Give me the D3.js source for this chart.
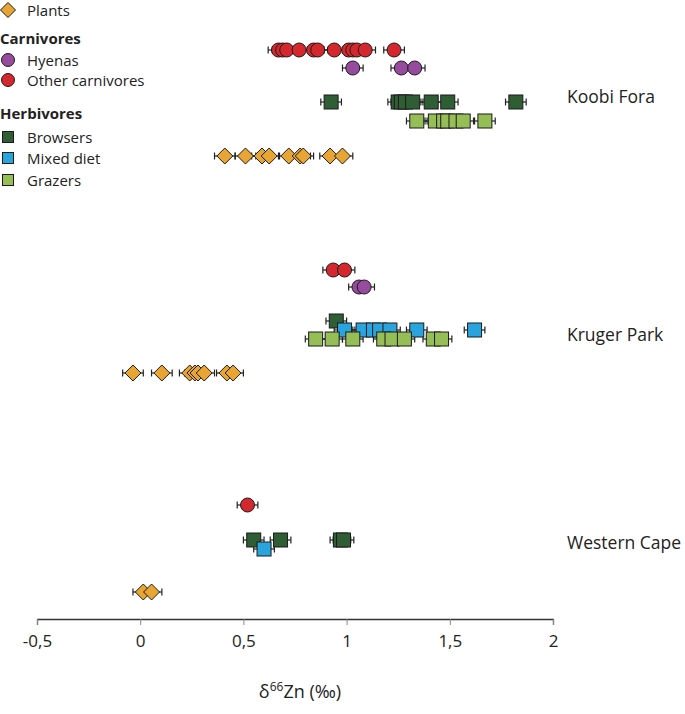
<!DOCTYPE html>
<html>
<head>
<meta charset="utf-8">
<script src="https://cdn.jsdelivr.net/npm/d3@7"></script>
<style>
  html, body { margin: 0; padding: 0; background: #fff; }
  svg { display: block; font-family: "Open Sans", "Noto Sans", sans-serif; }
</style>
</head>
<body>
<svg id="chart" width="685" height="714"></svg>
<script>
// ---------------- DATA (δ66Zn, ‰) ----------------
const sites = ["Koobi Fora", "Kruger Park", "Western Cape"];
const groups = ["Other carnivores", "Hyenas", "Browsers", "Mixed diet", "Grazers", "Plants"];
const xTicks = [-0.5, 0, 0.5, 1, 1.5, 2];
const xTickLabels = ["-0,5", "0", "0,5", "1", "1,5", "2"];
const errorHalf = 0.05;

// Koobi Fora
const kfOther    = [0.67, 0.69, 0.71, 0.77, 0.84, 0.86, 0.94, 1.01, 1.03, 1.05, 1.09, 1.23];
const kfHyenas   = [1.03, 1.265, 1.33];
const kfBrowsers = [0.925, 1.25, 1.265, 1.285, 1.32, 1.41, 1.49, 1.82];
const kfMixed    = [];
const kfGrazers  = [1.34, 1.43, 1.47, 1.49, 1.53, 1.565, 1.67];
const kfPlants   = [0.41, 0.51, 0.59, 0.625, 0.72, 0.775, 0.79, 0.92, 0.98];

// Kruger Park
const kpOther    = [0.935, 0.99];
const kpHyenas   = [1.06, 1.085];
const kpBrowsers = [0.95];
const kpMixed    = [0.99, 1.08, 1.13, 1.16, 1.21, 1.34, 1.62];
const kpGrazers  = [0.85, 0.93, 1.03, 1.18, 1.22, 1.28, 1.42, 1.46];
const kpPlants   = [-0.035, 0.105, 0.24, 0.265, 0.28, 0.31, 0.42, 0.45];

// Western Cape
const wcOther    = [0.52];
const wcHyenas   = [];
const wcBrowsers = [0.55, 0.68, 0.97, 0.985];
const wcMixed    = [0.6];
const wcGrazers  = [];
const wcPlants   = [0.015, 0.055];

const siteData = {
  "Koobi Fora":   [kfOther, kfHyenas, kfBrowsers, kfMixed, kfGrazers, kfPlants],
  "Kruger Park":  [kpOther, kpHyenas, kpBrowsers, kpMixed, kpGrazers, kpPlants],
  "Western Cape": [wcOther, wcHyenas, wcBrowsers, wcMixed, wcGrazers, wcPlants]
};

// ---------------- STYLE / LAYOUT ----------------
const color = d3.scaleOrdinal()
  .domain(["Plants", "Hyenas", "Other carnivores", "Browsers", "Mixed diet", "Grazers"])
  .range(["#e9a534", "#964b9f", "#d4282e", "#2f5e35", "#2aa4dc", "#95be57"]);
const shapeOf = g => g === "Plants" ? "diamond"
  : (g === "Hyenas" || g === "Other carnivores") ? "circle" : "square";

// row positions (pixels) within each site block
const rowY = {
  "Koobi Fora":   {"Other carnivores": 50, "Hyenas": 68, "Browsers": 102, "Mixed diet": 111, "Grazers": 121, "Plants": 156},
  "Kruger Park":  {"Other carnivores": 270, "Hyenas": 287, "Browsers": 321, "Mixed diet": 330, "Grazers": 339, "Plants": 373},
  "Western Cape": {"Other carnivores": 505, "Hyenas": 522, "Browsers": 540, "Mixed diet": 549, "Grazers": 558, "Plants": 592}
};
const siteLabelY = {"Koobi Fora": 103, "Kruger Park": 341, "Western Cape": 549};

const svg = d3.select("#chart");
const x = d3.scaleLinear().domain([-0.5, 2]).range([37, 553]);
const axisY = 619;

// rows of points
const points = [];
sites.forEach(s => {
  groups.forEach((g, gi) => {
    siteData[s][gi].forEach(v => points.push({site: s, group: g, v}));
  });
});

const plot = svg.append("g");

// error bars
const eb = plot.append("g").attr("stroke", "#222").attr("stroke-width", 1.2);
points.forEach(p => {
  const y = rowY[p.site][p.group];
  const x0 = x(p.v - errorHalf), x1 = x(p.v + errorHalf);
  eb.append("line").attr("x1", x0).attr("x2", x1).attr("y1", y).attr("y2", y);
  eb.append("line").attr("x1", x0).attr("x2", x0).attr("y1", y - 3.5).attr("y2", y + 3.5);
  eb.append("line").attr("x1", x1).attr("x2", x1).attr("y1", y - 3.5).attr("y2", y + 3.5);
});

function drawMarker(sel, shape, cx, cy, fill, size) {
  let m;
  if (shape === "circle") {
    m = sel.append("circle").attr("cx", cx).attr("cy", cy).attr("r", size / 2);
  } else if (shape === "square") {
    m = sel.append("rect").attr("x", cx - size / 2).attr("y", cy - size / 2)
      .attr("width", size).attr("height", size);
  } else {
    const h = size / 2 + 1;
    m = sel.append("path").attr("d", `M${cx},${cy - h}L${cx + h},${cy}L${cx},${cy + h}L${cx - h},${cy}Z`);
  }
  m.attr("fill", fill).attr("stroke", "#1b1b1b").attr("stroke-width", 1);
  return m;
}

const mk = plot.append("g");
points.forEach(p => {
  drawMarker(mk, shapeOf(p.group), x(p.v), rowY[p.site][p.group], color(p.group), 14);
});

// site labels
svg.append("g").selectAll("text").data(sites).join("text")
  .attr("x", 567).attr("y", s => siteLabelY[s])
  .attr("font-size", 17.5).attr("fill", "#222")
  .text(s => s);

// x axis
const axis = d3.axisBottom(x).tickValues(xTicks)
  .tickFormat((d, i) => xTickLabels[i]).tickSize(6).tickPadding(10);
const ax = svg.append("g").attr("transform", `translate(0,${axisY})`).call(axis);
ax.select(".domain").attr("stroke", "#333").attr("stroke-width", 1.3);
ax.selectAll(".tick line").attr("stroke", "#8c7f9c").attr("stroke-width", 1);
ax.selectAll(".tick text").attr("font-size", 17).attr("fill", "#222")
  .attr("font-family", "'Open Sans', sans-serif");

// axis title
const title = svg.append("text").attr("x", 300).attr("y", 698)
  .attr("text-anchor", "middle").attr("font-size", 18).attr("fill", "#222");
title.append("tspan").text("δ");
title.append("tspan").attr("font-size", 12).attr("dy", -7).text("66");
title.append("tspan").attr("dy", 7).text("Zn (‰)");

// legend
const lg = svg.append("g").attr("font-size", 15).attr("fill", "#222");
const legendItems = [
  {type: "item", group: "Plants", y: 10},
  {type: "head", label: "Carnivores", y: 44},
  {type: "item", group: "Hyenas", y: 60},
  {type: "item", group: "Other carnivores", y: 80},
  {type: "head", label: "Herbivores", y: 119},
  {type: "item", group: "Browsers", y: 137},
  {type: "item", group: "Mixed diet", y: 158},
  {type: "item", group: "Grazers", y: 180}
];
legendItems.forEach(it => {
  if (it.type === "head") {
    lg.append("text").attr("x", 0).attr("y", it.y).attr("font-weight", "bold").text(it.label);
  } else {
    const sh = shapeOf(it.group);
    drawMarker(lg, sh, 8, it.y, color(it.group), sh === "square" ? 11 : 13);
    lg.append("text").attr("x", 27).attr("y", it.y + 5.5).text(it.group);
  }
});
</script>
</body>
</html>
